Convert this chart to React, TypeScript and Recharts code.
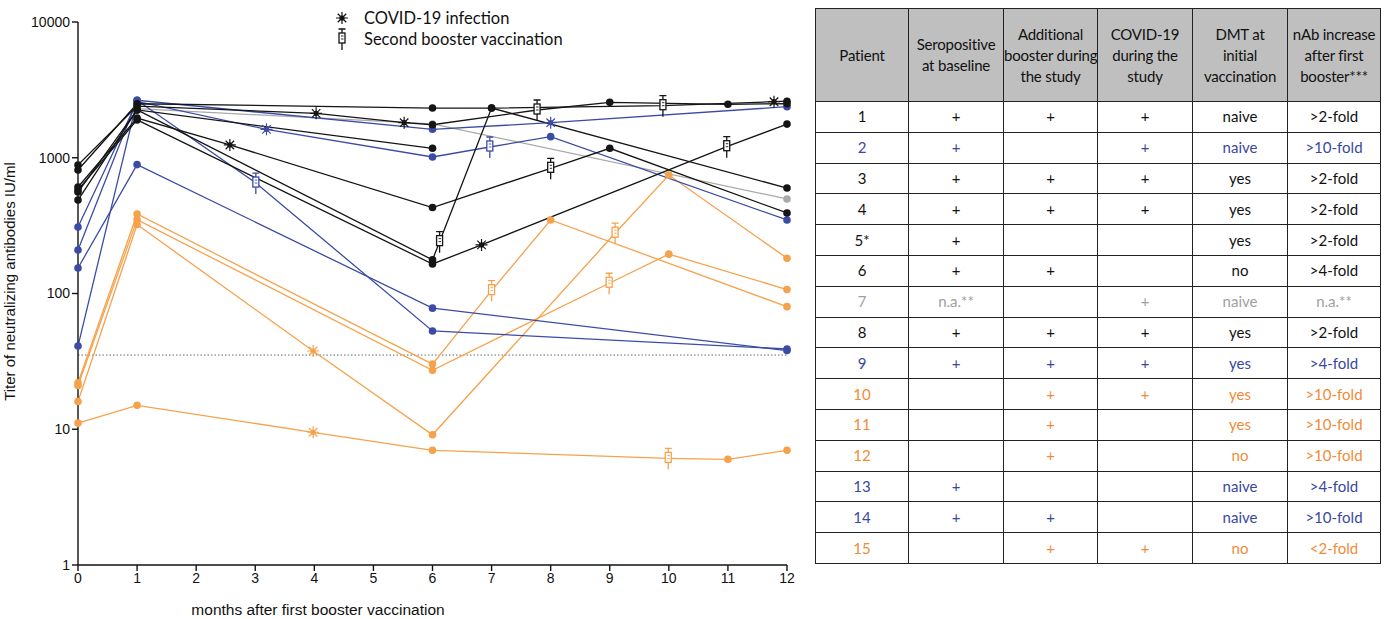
import React from 'react';
import { LineChart, Line, XAxis, YAxis, ReferenceLine } from 'recharts';

// [month, titer IU/ml, event]  event: 'v' visit, 'c' COVID-19 infection, 'b' second booster
const P1 = [[0, 885, 'v'], [1, 2400, 'v'], [4.03, 2125, 'c'], [5.52, 1812, 'c'], [6, 1750, 'v'], [7.77, 2248, 'b'], [9, 2560, 'v'], [11, 2476, 'v'], [12, 2500, 'v']];
const P3 = [[0, 812, 'v'], [1, 2500, 'v'], [6, 2324, 'v'], [7, 2324, 'v'], [9.9, 2418, 'b'], [11.78, 2587, 'c'], [12, 2610, 'v']];
const P4 = [[0, 609, 'v'], [1, 1960, 'v'], [2.57, 1242, 'c'], [6, 430, 'v'], [8, 836, 'b'], [9, 1174, 'v'], [12, 392, 'v']];
const P5 = [[0, 559, 'v'], [1, 2250, 'v'], [6, 1174, 'v']];
const P6 = [[0, 488, 'v'], [1, 2250, 'v'], [6, 177, 'v'], [6.12, 241, 'b'], [7, 2324, 'v'], [12, 598, 'v']];
const P8 = [[0, 579, 'v'], [1, 1900, 'v'], [6, 165, 'v'], [6.83, 228, 'c'], [10.98, 1206, 'b'], [12, 1770, 'v']];
const P7 = [[1, 2300, 'v'], [6, 1774, 'v'], [12, 497, 'v']];
const P2 = [[0, 209, 'v'], [1, 2650, 'v'], [6, 1620, 'v'], [8, 1812, 'c'], [12, 2378, 'v']];
const P9 = [[0, 309, 'v'], [1, 2600, 'v'], [3.19, 1620, 'c'], [6, 1013, 'v'], [6.97, 1200, 'b'], [8, 1430, 'v'], [12, 348, 'v']];
const P13 = [[0, 154, 'v'], [1, 890, 'v'], [6, 78, 'v'], [12, 38, 'v']];
const P14 = [[0, 41, 'v'], [1, 2650, 'v'], [3.01, 651, 'b'], [6, 53, 'v'], [12, 39, 'v']];
const P10 = [[0, 16, 'v'], [1, 322, 'v'], [3.98, 37.7, 'c'], [6, 9.1, 'v'], [9.09, 278, 'b'], [10, 746, 'v'], [12, 182, 'v']];
const P11 = [[0, 22, 'v'], [1, 385, 'v'], [6, 30.2, 'v'], [7, 105, 'b'], [8, 348, 'v'], [12, 80, 'v']];
const P12 = [[0, 21, 'v'], [1, 350, 'v'], [6, 27.2, 'v'], [8.99, 119, 'b'], [10, 195, 'v'], [12, 107, 'v']];
const P15 = [[0, 11.1, 'v'], [1, 15, 'v'], [3.98, 9.5, 'c'], [6, 7, 'v'], [9.99, 6.1, 'b'], [11, 6, 'v'], [12, 7, 'v']];

const X_TICKS = [0, 1, 2, 3, 4, 5, 6, 7, 8, 9, 10, 11, 12];
const Y_TICKS = [1, 10, 100, 1000, 10000];
const CUTOFF = 35.2;

const TABLE_HEADERS = [['Patient'], ['Seropositive', 'at baseline'], ['Additional', 'booster during', 'the study'], ['COVID-19', 'during the', 'study'], ['DMT at', 'initial', 'vaccination'], ['nAb increase', 'after first', 'booster***']];
const TABLE_PATIENT = ['1', '2', '3', '4', '5*', '6', '7', '8', '9', '10', '11', '12', '13', '14', '15'];
const TABLE_SERO = ['+', '+', '+', '+', '+', '+', 'n.a.**', '+', '+', '', '', '', '+', '+', ''];
const TABLE_BOOST = ['+', '', '+', '+', '', '+', '', '+', '+', '+', '+', '+', '', '+', '+'];
const TABLE_COVID = ['+', '+', '+', '+', '', '', '+', '+', '+', '+', '', '', '', '', '+'];
const TABLE_DMT = ['naive', 'naive', 'yes', 'yes', 'yes', 'no', 'naive', 'yes', 'yes', 'yes', 'yes', 'no', 'naive', 'naive', 'no'];
const TABLE_NAB = ['>2-fold', '>10-fold', '>2-fold', '>2-fold', '>2-fold', '>4-fold', 'n.a.**', '>2-fold', '>4-fold', '>10-fold', '>10-fold', '>10-fold', '>4-fold', '>10-fold', '<2-fold'];
const TABLE_GROUP = ['k', 'b', 'k', 'k', 'k', 'k', 'g', 'k', 'b', 'o', 'o', 'o', 'b', 'b', 'o'];

const C = { k: '#151515', b: '#3c4ca6', g: '#a9a9a9', o: '#f6a24c' };
const TC = { k: '#111111', b: '#3a47a0', g: '#a0a0a0', o: '#ef8c38' };

const toRows = (arr: any[]) => arr.map((r) => ({ m: r[0], v: r[1], e: r[2] }));

const SERIES: { id: string; data: any[]; g: string }[] = [
  { id: 'p15', data: P15, g: 'o' },
  { id: 'p12', data: P12, g: 'o' },
  { id: 'p11', data: P11, g: 'o' },
  { id: 'p10', data: P10, g: 'o' },
  { id: 'p7', data: P7, g: 'g' },
  { id: 'p13', data: P13, g: 'b' },
  { id: 'p14', data: P14, g: 'b' },
  { id: 'p9', data: P9, g: 'b' },
  { id: 'p2', data: P2, g: 'b' },
  { id: 'p5', data: P5, g: 'k' },
  { id: 'p6', data: P6, g: 'k' },
  { id: 'p8', data: P8, g: 'k' },
  { id: 'p4', data: P4, g: 'k' },
  { id: 'p3', data: P3, g: 'k' },
  { id: 'p1', data: P1, g: 'k' },
];

function StarMark({ x, y, color }: { x: number; y: number; color: string }) {
  const r = 6;
  const d = r * 0.707;
  return (
    <g>
      <path d={`M${x - r},${y}H${x + r}M${x},${y - r}V${y + r}M${x - d},${y - d}L${x + d},${y + d}M${x - d},${y + d}L${x + d},${y - d}`} stroke={color} strokeWidth={1.2} />
      <circle cx={x} cy={y} r={2.6} fill={color} />
    </g>
  );
}

function SyringeMark({ x, y, color }: { x: number; y: number; color: string }) {
  return (
    <g fill="none" stroke={color} strokeWidth={1.3}>
      <path d={`M${x - 3.5},${y - 10}H${x + 3.5}M${x},${y - 10}V${y - 6}M${x},${y + 4}V${y + 11}`} />
      <rect x={x - 3} y={y - 6} width={6} height={10} fill="#fff" />
      <path d={`M${x - 1},${y - 3}H${x + 1.5}M${x - 1},${y}H${x + 1.5}`} strokeWidth={0.9} />
    </g>
  );
}

const makeDot = (color: string) => (props: any) => {
  const { cx, cy, payload, index } = props;
  const key = `dot-${index}`;
  if (cx == null || cy == null) return <g key={key} />;
  if (payload.e === 'c') return <g key={key}><StarMark x={cx} y={cy} color={color} /></g>;
  if (payload.e === 'b') return <g key={key}><SyringeMark x={cx} y={cy} color={color} /></g>;
  return <circle key={key} cx={cx} cy={cy} r={3.8} fill={color} stroke="none" />;
};

const tableFont = 'Lato, "Open Sans", sans-serif';
const axisFamily = '"Liberation Sans", Arial, sans-serif';

function DataTable() {
  const widths = [93, 95, 94, 95, 95, 93];
  const cell: React.CSSProperties = { border: '1px solid #222', textAlign: 'center', verticalAlign: 'middle', padding: 0 };
  const cols = [TABLE_PATIENT, TABLE_SERO, TABLE_BOOST, TABLE_COVID, TABLE_DMT, TABLE_NAB];
  return (
    <table style={{ position: 'absolute', left: 815, top: 8, width: 565, height: 555, borderCollapse: 'collapse', tableLayout: 'fixed', fontFamily: tableFont, fontSize: 15, lineHeight: '21px' }}>
      <colgroup>
        {widths.map((w, i) => <col key={i} style={{ width: w }} />)}
      </colgroup>
      <thead>
        <tr style={{ height: 93, background: '#bfbfbf' }}>
          {TABLE_HEADERS.map((h, i) => (
            <th key={i} style={{ ...cell, fontWeight: 'normal', color: '#111', whiteSpace: 'nowrap', overflow: 'visible', letterSpacing: -0.2 }}>
              {h.map((ln, j) => <div key={j}>{ln}</div>)}
            </th>
          ))}
        </tr>
      </thead>
      <tbody>
        {TABLE_PATIENT.map((_, r) => (
          <tr key={r} style={{ height: 30.8 }}>
            {cols.map((col, c) => (
              <td key={c} style={{ ...cell, color: TC[TABLE_GROUP[r] as keyof typeof TC] }}>{col[r]}</td>
            ))}
          </tr>
        ))}
      </tbody>
    </table>
  );
}

export default function App() {
  const axisFont = { fontFamily: axisFamily, fontSize: 14, fill: '#111' };
  return (
    <div style={{ position: 'absolute', left: 0, top: 0, width: 1384, height: 619, background: '#fff', overflow: 'hidden' }}>
      <LineChart width={800} height={619} margin={{ top: 22, right: 13, bottom: 0, left: 0 }}>
        <XAxis
          dataKey="m"
          type="number"
          domain={[0, 12]}
          ticks={X_TICKS}
          allowDuplicatedCategory={false}
          height={54}
          tickSize={6}
          stroke="#111"
          strokeWidth={1.4}
          tick={axisFont}
        />
        <YAxis
          type="number"
          scale="log"
          domain={[1, 10000]}
          ticks={Y_TICKS}
          allowDataOverflow
          width={78}
          tickSize={6}
          stroke="#111"
          strokeWidth={1.4}
          tick={axisFont}
          label={{ value: 'Titer of neutralizing antibodies IU/ml', angle: -90, position: 'insideLeft', offset: 10, dy: -12, style: { textAnchor: 'middle', fontFamily: axisFamily, fontSize: 15, fill: '#111' } }}
        />
        <ReferenceLine y={CUTOFF} stroke="#666" strokeWidth={1} strokeDasharray="1.5 2" ifOverflow="visible" />
        {SERIES.map((s) => (
          <Line
            key={s.id}
            data={toRows(s.data)}
            dataKey="v"
            type="linear"
            stroke={C[s.g as keyof typeof C]}
            strokeWidth={1.3}
            dot={makeDot(C[s.g as keyof typeof C])}
            activeDot={false}
            isAnimationActive={false}
          />
        ))}
      </LineChart>
      <div style={{ position: 'absolute', left: 118, width: 400, top: 600, textAlign: 'center', fontFamily: axisFamily, fontSize: 15.5, color: '#111', lineHeight: '20px' }}>
        months after first booster vaccination
      </div>
      <div style={{ position: 'absolute', left: 330, top: 7, fontFamily: tableFont, fontSize: 16.5, color: '#111' }}>
        <div style={{ display: 'flex', alignItems: 'center', height: 22 }}>
          <svg width={26} height={20}><StarMark x={12} y={10} color="#111" /></svg>
          <span style={{ marginLeft: 8 }}>COVID-19 infection</span>
        </div>
        <div style={{ display: 'flex', alignItems: 'center', height: 20 }}>
          <svg width={26} height={24}><SyringeMark x={12} y={12} color="#111" /></svg>
          <span style={{ marginLeft: 8 }}>Second booster vaccination</span>
        </div>
      </div>
      <DataTable />
    </div>
  );
}
